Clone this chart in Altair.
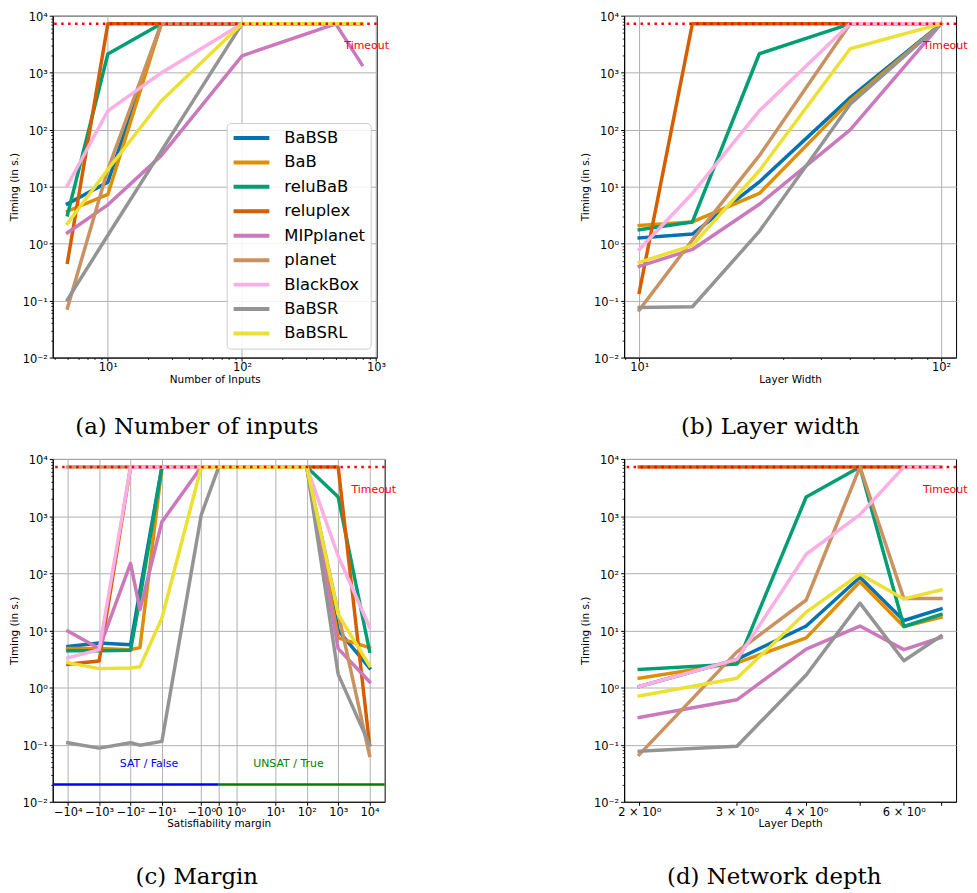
import json
import math
import altair as alt
import pandas as pd

METHODS = ["BaBSB", "BaB", "reluBaB", "reluplex", "MIPplanet", "planet", "BlackBox", "BaBSR", "BaBSRL"]
COLORS = ["#0173b2", "#de8f05", "#029e73", "#d55e00", "#cc78bc", "#ca9161", "#fbafe4", "#949494", "#ece133"]
TIMEOUT = 7200

# (a) Number of inputs
INPUTS_X = [5, 10, 25, 100, 500, 784]
INPUTS_T = {
    "BaBSB":     [5.0, 12, 7200, 7200, 7200, 7200],
    "BaB":       [3.7, 7.3, 7200, 7200, 7200, 7200],
    "reluBaB":   [3.2, 2130, 7200, 7200, 7200, 7200],
    "reluplex":  [0.47, 7200, 7200, 7200, 7200, 7200],
    "MIPplanet": [1.55, 4.8, 35, 1980, 7200, 1380],
    "planet":    [0.074, 20, 7200, 7200, 7200, 7200],
    "BlackBox":  [10.5, 213, 990, 7200, 7200, 7200],
    "BaBSR":     [0.104, 1.4, 42, 7200, 7200, 7200],
    "BaBSRL":    [2.25, 20, 318, 7200, 7200, 7200],
}

# (b) Layer width
WIDTH_X = [10, 15, 25, 50, 100]
WIDTH_T = {
    "BaBSB":     [1.26, 1.47, 12.1, 365, 7200],
    "BaB":       [2.08, 2.4, 7.6, 320, 7200],
    "reluBaB":   [1.75, 2.4, 2150, 7200, 7200],
    "reluplex":  [0.14, 7200, 7200, 7200, 7200],
    "MIPplanet": [0.40, 0.79, 4.9, 99, 7200],
    "planet":    [0.068, 1.16, 35, 7200, 7200],
    "BlackBox":  [0.79, 7.6, 214, 7200, 7200],
    "BaBSR":     [0.076, 0.078, 1.64, 280, 7200],
    "BaBSRL":    [0.47, 0.93, 19, 2630, 7200],
}

# (c) Margin
MARGIN_X = [-10000, -1000, -100, -50, -10, -1, 0, 100, 1000, 10000]
MARGIN_T = {
    "BaBSB":     [5.2, 6.0, 5.6, 50, 7200, 7200, 7200, 7200, 10, 2.2],
    "BaB":       [4.8, 4.8, 4.6, 5.0, 7200, 7200, 7200, 7200, 7.4, 5.0],
    "reluBaB":   [4.4, 4.4, 4.5, 37, 7200, 7200, 7200, 7200, 2150, 4.3],
    "reluplex":  [2.55, 2.9, 7200, 7200, 7200, 7200, 7200, 7200, 7200, 0.10],
    "MIPplanet": [9.7, 4.8, 149, 23, 792, 7200, 7200, 7200, 4.8, 1.26],
    "planet":    [7200, 7200, 7200, 7200, 7200, 7200, 7200, 7200, 20, 0.065],
    "BlackBox":  [3.3, 4.6, 7200, 7200, 7200, 7200, 7200, 7200, 200, 11.4],
    "BaBSR":     [0.108, 0.087, 0.108, 0.098, 0.114, 1050, 7200, 7200, 1.7, 0.10],
    "BaBSRL":    [2.72, 2.14, 2.2, 2.3, 16.5, 7200, 7200, 7200, 19, 2.4],
}

# (d) Network depth
DEPTH_X = [2, 3, 4, 5, 6, 7]
DEPTH_T = {
    "BaBSB":     [1.04, 3.1, 11.9, 85, 14.9, 23.8],
    "BaB":       [1.45, 2.7, 7.4, 71, 11.7, 17],
    "reluBaB":   [2.07, 2.57, 2160, 7200, 11.7, 19],
    "reluplex":  [7200, 7200, 7200, 7200, 7200, 7200],
    "MIPplanet": [0.30, 0.61, 4.7, 11.9, 4.6, 7.5],
    "planet":    [0.067, 4.2, 34, 7200, 36, 36],
    "BlackBox":  [1.04, 3.1, 215, 1060, 7200, 7200],
    "BaBSR":     [0.077, 0.094, 1.66, 30, 2.94, 8.0],
    "BaBSRL":    [0.71, 1.45, 20.8, 97, 35.5, 51],
}

Y_TICKS = [0.01, 0.1, 1, 10, 100, 1000, 10000]
Y_LABELS = ["10⁻²", "10⁻¹", "10⁰", "10¹", "10²", "10³", "10⁴"]
Y_MINOR = [m * 10.0 ** e for e in range(-2, 4) for m in range(2, 10)]

INPUT_TICKS = [10, 100, 1000]
INPUT_LABELS = ["10¹", "10²", "10³"]
INPUT_MINOR = [m * 10.0 ** e for e in range(0, 3) for m in range(2, 10) if m * 10.0 ** e >= 4]

WIDTH_TICKS = [10, 100]
WIDTH_LABELS = ["10¹", "10²"]
WIDTH_MINOR = [9] + [m * 10 for m in range(2, 10)]

MARGIN_TICKS = [-10000, -1000, -100, -10, -1, 0, 1, 10, 100, 1000, 10000]
MARGIN_LABELS = ["−10⁴", "−10³", "−10²", "−10¹", "−10⁰", "0", "10⁰", "10¹", "10²", "10³", "10⁴"]

DEPTH_TICKS = [2, 3, 4, 5, 6, 7]
DEPTH_LABELS = ["2 × 10⁰", "3 × 10⁰", "4 × 10⁰", "", "6 × 10⁰", ""]

FONT = "DejaVu Sans"
CAPTION_FONT = "DejaVu Serif"


def symlog(v, linthresh=2.0, linscale=1.0):
    adj = linscale / (1 - 0.1)
    a = abs(v)
    if a <= linthresh:
        return v * adj / linthresh
    return math.copysign(adj + math.log10(a / linthresh), v)


def log_domain(xs):
    lo, hi = math.log10(min(xs)), math.log10(max(xs))
    m = 0.05 * (hi - lo)
    return [10 ** (lo - m), 10 ** (hi + m)]


def log_frac(dom, f):
    lo, hi = math.log10(dom[0]), math.log10(dom[1])
    return 10 ** (lo + f * (hi - lo))


def long_df(xs, table, transform=None):
    rows = []
    for k, m in enumerate(METHODS):
        for x, t in zip(xs, table[m]):
            rows.append({"x": transform(x) if transform else x, "t": t, "method": m, "k": k})
    return pd.DataFrame(rows)


def label_expr(values, labels):
    keys = [int(round(v * 1000)) for v in values]
    return f"{json.dumps(labels, ensure_ascii=False)}[indexof({json.dumps(keys)}, round(datum.value*1000))]"


def major_axis(values, labels, title, grid=True, title_pad=3, label_pad=2, label_offset=0):
    return alt.Axis(
        values=values, labelExpr=label_expr(values, labels), title=title,
        grid=grid, gridColor="#b0b0b0", gridWidth=1, gridOpacity=1,
        domain=True, domainColor="black", domainWidth=1,
        ticks=True, tickColor="black", tickSize=3.5, tickWidth=1,
        labelFont=FONT, labelFontSize=11.5, labelColor="black", labelPadding=label_pad,
        labelOverlap=False, labelFlush=False, labelOffset=label_offset,
        titleFont=FONT, titleFontSize=10.5, titleFontWeight="normal", titleColor="black",
        titlePadding=title_pad,
    )


def minor_axis(values, orient):
    return alt.Axis(values=values, labels=False, ticks=True, tickSize=2, tickColor="black",
                    tickWidth=0.8, grid=False, domain=False, title=None, orient=orient)


ONE = pd.DataFrame({"d": [0]})
Y_SCALE = alt.Scale(type="log", domain=[0.01, 10000], nice=False)
COLOR_SCALE = alt.Scale(domain=METHODS, range=COLORS)


def panel(df, x_scale, x_major, x_minor, w, h, caption, dx, offset, text_x, legend=None, extra=()):
    lines = alt.Chart(df).mark_line(strokeWidth=3.5, strokeCap="square", strokeJoin="round").encode(
        x=alt.X("x:Q", scale=x_scale, axis=x_major),
        y=alt.Y("t:Q", scale=Y_SCALE,
                axis=major_axis(Y_TICKS, Y_LABELS, "Timing (in s.)", title_pad=3, label_offset=2)),
        color=alt.Color("method:N", scale=COLOR_SCALE, legend=legend),
        order=alt.Order("x:Q"),
    )
    rule = alt.Chart(ONE).mark_rule(color="red", strokeWidth=2.5, strokeDash=[2.5, 4.5]).encode(
        y=alt.Y(datum=TIMEOUT, axis=None)
    )
    text = alt.Chart(ONE).mark_text(text="Timeout", color="red", align="left", baseline="middle",
                                    font=FONT, fontSize=11).encode(
        x=alt.X(datum=text_x, axis=minor_axis(x_minor, "bottom") if x_minor else None),
        y=alt.Y(datum=2900, axis=minor_axis(Y_MINOR, "left")),
    )
    layer = alt.layer(lines, *extra, rule, text).resolve_axis(x="independent", y="independent")
    return layer.properties(
        width=w, height=h,
        title=alt.TitleParams(caption, orient="bottom", anchor="middle", frame="group",
                              font=CAPTION_FONT, fontSize=23, fontWeight="normal", color="black",
                              baseline="top", offset=offset, dx=dx),
    )


# ---- (a)
dom_a = log_domain(INPUTS_X)
df_a = long_df(INPUTS_X, INPUTS_T)
legend_a = alt.Legend(orient="none", legendX=175, legendY=108, title=None, symbolType="stroke",
                      symbolSize=1296, symbolStrokeWidth=4, labelFont=FONT, labelFontSize=16.5,
                      labelColor="black", labelOffset=13, clipHeight=20, rowPadding=4.6, padding=5,
                      strokeColor="#cccccc", fillColor="rgba(255,255,255,0.85)", cornerRadius=4)
pa = panel(df_a, alt.Scale(type="log", domain=dom_a, nice=False),
           major_axis(INPUT_TICKS, INPUT_LABELS, "Number of Inputs", title_pad=1, label_pad=1),
           INPUT_MINOR, 326, 344, "(a) Number of inputs", -18, 31, log_frac(dom_a, 0.9), legend=legend_a)

# ---- (b)
dom_b = log_domain(WIDTH_X)
df_b = long_df(WIDTH_X, WIDTH_T)
pb = panel(df_b, alt.Scale(type="log", domain=dom_b, nice=False),
           major_axis(WIDTH_TICKS, WIDTH_LABELS, "Layer Width", title_pad=1, label_pad=1),
           WIDTH_MINOR, 334, 344, "(b) Layer width", -20, 31, log_frac(dom_b, 0.9))

# ---- (c)
edge_c = symlog(MARGIN_X[-1]) * 1.1
df_c = long_df(MARGIN_X, MARGIN_T, symlog)
margin_tick_pos = [symlog(v) for v in MARGIN_TICKS]
sat_rule = alt.Chart(ONE).mark_rule(color="blue", strokeWidth=2.5).encode(
    x=alt.X(datum=-edge_c, axis=None), x2=alt.X2(datum=0), y=alt.Y(datum=0.02, axis=None))
unsat_rule = alt.Chart(ONE).mark_rule(color="green", strokeWidth=2.5).encode(
    x=alt.X(datum=0, axis=None), x2=alt.X2(datum=edge_c), y=alt.Y(datum=0.02, axis=None))
sat_text = alt.Chart(ONE).mark_text(text="SAT / False", color="blue", font=FONT, fontSize=11).encode(
    x=alt.X(datum=-edge_c + 0.29 * 2 * edge_c, axis=None), y=alt.Y(datum=0.045, axis=None))
unsat_text = alt.Chart(ONE).mark_text(text="UNSAT / True", color="green", font=FONT, fontSize=11).encode(
    x=alt.X(datum=-edge_c + 0.71 * 2 * edge_c, axis=None), y=alt.Y(datum=0.045, axis=None))
pc = panel(df_c, alt.Scale(type="linear", domain=[-edge_c, edge_c], nice=False, zero=False),
           major_axis(margin_tick_pos, MARGIN_LABELS, "Satisfiability margin", title_pad=1, label_pad=1),
           None, 334, 345, "(c) Margin", -22, 37, -edge_c + 0.9 * 2 * edge_c,
           extra=(sat_rule, unsat_rule, sat_text, unsat_text))

# ---- (d)
dom_d = log_domain(DEPTH_X)
df_d = long_df(DEPTH_X, DEPTH_T)
pd_ = panel(df_d, alt.Scale(type="log", domain=dom_d, nice=False),
            major_axis(DEPTH_TICKS, DEPTH_LABELS, "Layer Depth", grid=False, title_pad=1, label_pad=1),
            None, 334, 345, "(d) Network depth", -16, 37, log_frac(dom_d, 0.9))

chart = alt.concat(
    pa, pb, pc, pd_, columns=2, spacing={"row": 102, "column": 241}, bounds="flush"
).resolve_scale(color="independent").properties(
    padding={"left": 0, "top": 0, "right": 0, "bottom": 0}
).configure_view(stroke="black", strokeWidth=1)

chart.save("out.html", embed_options={"renderer": "svg", "actions": False})
